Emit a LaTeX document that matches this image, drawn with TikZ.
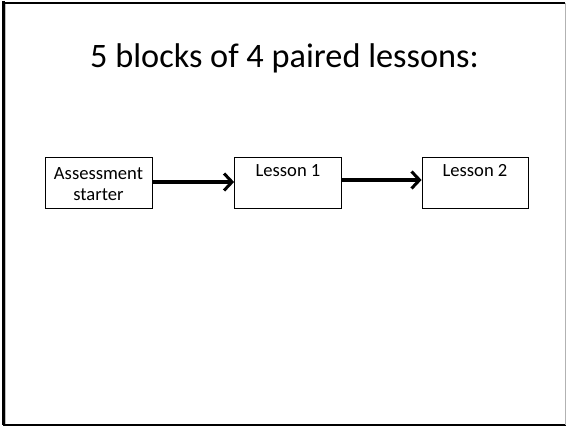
\documentclass[tikz,border=0pt]{standalone}
\usepackage{fontspec}
\setmainfont{Carlito}
\usetikzlibrary{arrows.meta}
\begin{document}
\begin{tikzpicture}[x=1pt,y=-1pt,
  box/.style={draw=black, line width=0.8pt, minimum width=107pt, minimum height=51pt, inner sep=0pt},
  boxtext/.style={font=\fontsize{18.6}{20.5}\selectfont, inner sep=0pt},
  link/.style={draw=black, line width=3.6pt, -{Straight Barb[length=8pt,width=17pt,line width=3pt]}},
  frame/.style={draw=black, line width=2.5pt}]
\useasboundingbox (0,0) rectangle (566,427);
\fill[white] (0,0) rectangle (566,427);
% slide frame
\draw[frame] (3.5,1.5) -- (3.5,425.5);
\draw[black, line width=2pt] (2.5,3) -- (565,3);
\draw[black, line width=2pt] (2.5,425.5) -- (566,425.5);
\draw[gray!60, line width=1pt] (565,3) -- (565,425);
\draw[gray!50, line width=0.8pt] (5.5,4) -- (5.5,424.5);
% title
\node[font=\fontsize{34.3}{38}\selectfont, anchor=base, inner sep=0pt] (title) at (284.5,68) {5 blocks of 4 paired lessons:};
% boxes
\node[box] (b1) at (98.5,182.5) {};
\node[box] (b2) at (288,182.5) {};
\node[box, minimum width=106pt] (b3) at (475,182.5) {};
\node[boxtext, align=center] (t1) at (98.5,184) {Assessment\\starter};
\node[boxtext, anchor=base] (t2) at (288,177) {Lesson 1};
\node[boxtext, anchor=base] (t3) at (475,177) {Lesson 2};
% arrows
\draw[link] (b1.east |- 0,182) -- (b2.west |- 0,182);
\draw[link] (b2.east |- 0,180) -- (b3.west |- 0,180);
\end{tikzpicture}
\end{document}
